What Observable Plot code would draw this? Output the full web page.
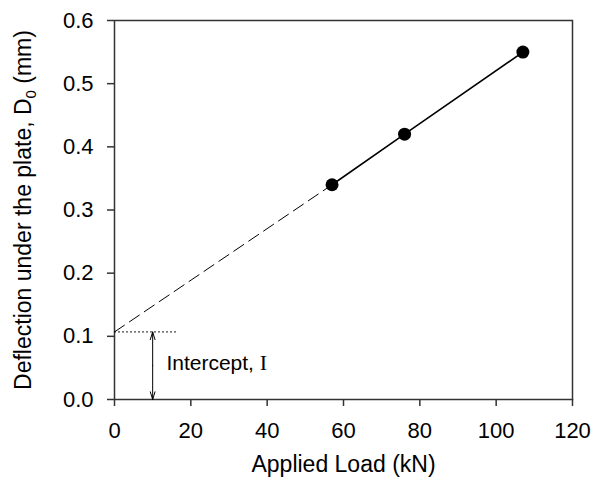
<!DOCTYPE html>
<html><head><meta charset="utf-8">
<script src="https://cdn.jsdelivr.net/npm/d3@7"></script>
<script src="https://cdn.jsdelivr.net/npm/@observablehq/plot@0.6"></script>
<style>html,body{margin:0;padding:0;background:#fff}</style>
</head><body><div id="chart"></div>
<script>
// ---- data ----
const loads = [57, 76, 107];              // Applied Load (kN)
const deflections = [0.34, 0.42, 0.55];   // D0 (mm)
const intercept = 0.107;                  // extrapolated intercept I (mm)
const xTicks = [0, 20, 40, 60, 80, 100, 120];
const yTicks = [0, 0.1, 0.2, 0.3, 0.4, 0.5, 0.6];
const xTitle = "Applied Load (kN)";
const yTitleParts = ["Deflection under the plate, D", "0", " (mm)"];
const annotationParts = ["Intercept, ", "I"];

// ---- derived tables ----
const points = loads.map((x, i) => ({x, y: deflections[i]}));
const extrapolation = [{x: 0, y: intercept}, points[0]];
const arrowX = 10, dottedEnd = 16;
const dotted = [{x: 0, y: intercept}, {x: dottedEnd, y: intercept}];
const mid = intercept / 2;
const arrows = [
  {x1: arrowX, y1: mid, x2: arrowX, y2: intercept},
  {x1: arrowX, y1: mid, x2: arrowX, y2: 0}
];

const font = "'Liberation Sans', Arial, Helvetica, sans-serif";
const chart = Plot.plot({
  width: 593, height: 487,
  marginLeft: 114, marginRight: 21, marginTop: 20, marginBottom: 88,
  style: {fontFamily: font, fontSize: "22px", color: "#000", background: "#fff", overflow: "visible"},
  x: {domain: [0, 120]},
  y: {domain: [0, 0.6]},
  marks: [
    Plot.frame({stroke: "#333", strokeWidth: 1.5}),
    Plot.axisX({ticks: xTicks, tickSize: 7, tickPadding: 16, fontSize: 22, label: null, stroke: "#333", strokeWidth: 1.5}),
    Plot.axisY({ticks: yTicks, tickSize: 7, tickPadding: 14, fontSize: 22, tickFormat: d3.format(".1f"), label: null, stroke: "#333", strokeWidth: 1.5}),
    Plot.line(extrapolation, {x: "x", y: "y", stroke: "#000", strokeWidth: 1, strokeDasharray: "12,6"}),
    Plot.line(dotted, {x: "x", y: "y", stroke: "#000", strokeWidth: 1, strokeDasharray: "1,3"}),
    Plot.arrow(arrows, {x1: "x1", y1: "y1", x2: "x2", y2: "y2", stroke: "#000", strokeWidth: 1, headLength: 12, headAngle: 34, inset: 0}),
    Plot.line(points, {x: "x", y: "y", stroke: "#000", strokeWidth: 1.6}),
    Plot.dot(points, {x: "x", y: "y", r: 6.5, fill: "#000", stroke: "none"}),
    Plot.text([xTitle], {frameAnchor: "bottom", dy: 72, fontSize: 23, fill: "#000"}),
    Plot.text([yTitleParts.join("")], {frameAnchor: "left", textAnchor: "middle", dx: -91, rotate: -90, fontSize: 23, fill: "#000"}),
    Plot.text([annotationParts.join("")], {x: 13.6, y: 0.058, textAnchor: "start", fontSize: 21, fill: "#000"})
  ]
});
document.getElementById("chart").appendChild(chart);

// subscript and serif glyph as real text spans
d3.select(chart).selectAll("text").each(function() {
  const t = this.textContent;
  if (t === yTitleParts.join("")) {
    const sel = d3.select(this);
    sel.text(null);
    sel.append("tspan").text(yTitleParts[0]);
    sel.append("tspan").attr("dy", 5).attr("font-size", 15).text(yTitleParts[1]);
    sel.append("tspan").attr("dy", -5).text(yTitleParts[2]);
  } else if (t === annotationParts.join("")) {
    const sel = d3.select(this);
    sel.text(null);
    sel.append("tspan").text(annotationParts[0]);
    sel.append("tspan").attr("font-family", "'Liberation Serif', 'Times New Roman', serif").attr("font-size", 22).text(annotationParts[1]);
  }
});
</script>
</body></html>
